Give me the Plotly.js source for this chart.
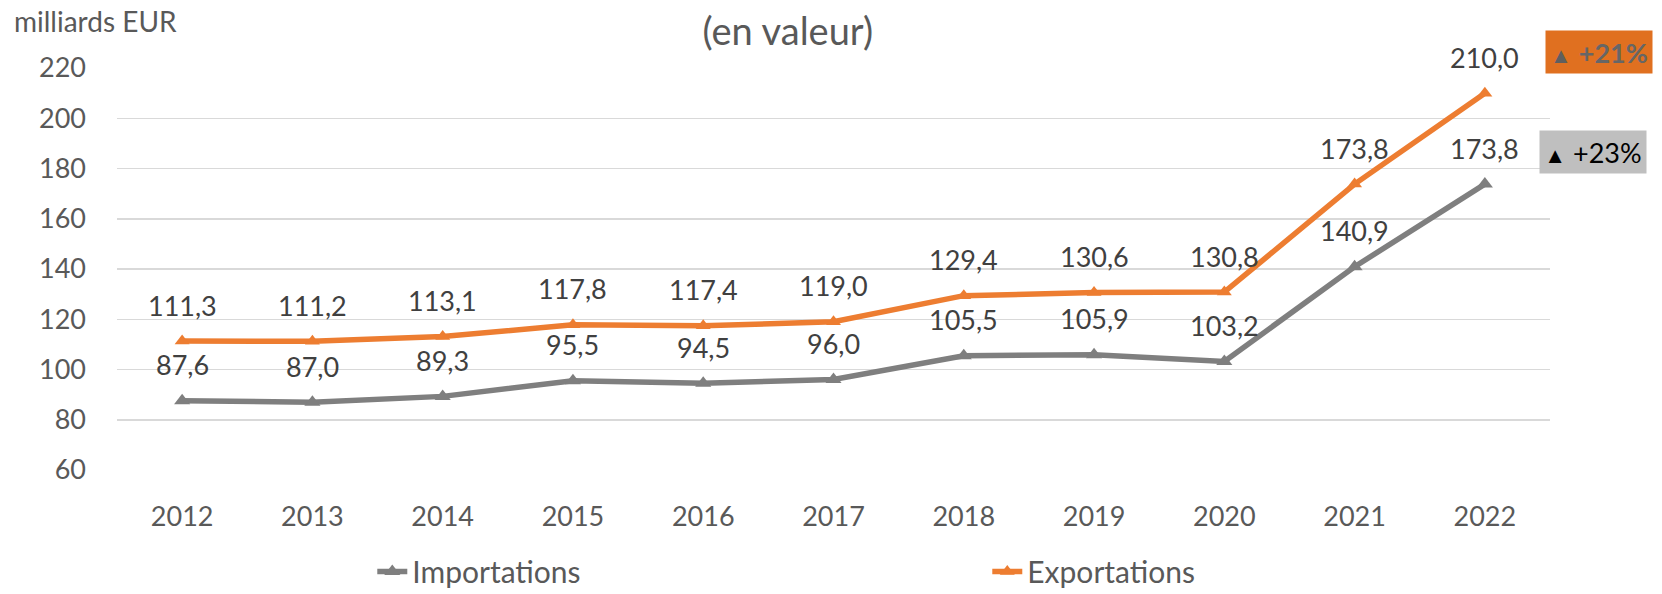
<!DOCTYPE html>
<html>
<head>
<meta charset="utf-8">
<script src="https://cdn.plot.ly/plotly-3.0.1.min.js"></script>
<style>html,body{margin:0;padding:0;background:#fff;}#chart{width:1662px;height:594px;}</style>
</head>
<body>
<div id="chart"></div>
<script>
const years = ['2012','2013','2014','2015','2016','2017','2018','2019','2020','2021','2022'];
const importations = [87.6, 87.0, 89.3, 95.5, 94.5, 96.0, 105.5, 105.9, 103.2, 140.9, 173.8];
const exportations = [111.3, 111.2, 113.1, 117.8, 117.4, 119.0, 129.4, 130.6, 130.8, 173.8, 210.0];
const yTicks = [60, 80, 100, 120, 140, 160, 180, 200, 220];
const badgeExports = '+21%';
const badgeImports = '+23%';

const FONT = 'Lato, "Open Sans", sans-serif';
const fmt = v => v.toFixed(1).replace('.', ',');

const traces = [
  {
    x: years, y: importations, name: 'Importations', type: 'scatter', mode: 'lines+markers',
    line: {color: '#7F7F7F', width: 5.5},
    marker: {symbol: 'triangle-up', size: 14, color: '#7F7F7F'}
  },
  {
    x: years, y: exportations, name: 'Exportations', type: 'scatter', mode: 'lines+markers',
    line: {color: '#ED7D31', width: 5.5},
    marker: {symbol: 'triangle-up', size: 13, color: '#ED7D31'}
  }
];

const annotations = [];
[importations, exportations].forEach(series => {
  series.forEach((v, i) => {
    annotations.push({
      x: i, y: v, xref: 'x', yref: 'y', text: fmt(v), showarrow: false,
      yshift: 36, font: {family: FONT, size: 27, color: '#404040'}
    });
  });
});

annotations.push({
  xref: 'paper', yref: 'paper', x: -0.0733, y: 1.1157, xanchor: 'left', yanchor: 'middle',
  text: 'milliards EUR', showarrow: false, font: {family: FONT, size: 28, color: '#595959'}
});
annotations.push({
  xref: 'paper', yref: 'paper', x: 1.034, y: 1.041, xanchor: 'center', yanchor: 'middle',
  text: '<span style="font-size:22px;color:#5f5f5f">▲</span> <b>' + badgeExports + '</b>',
  showarrow: false, bgcolor: '#E07020', width: 104, height: 40,
  font: {family: FONT, size: 27, color: '#666666'}
});
annotations.push({
  xref: 'paper', yref: 'paper', x: 1.030, y: 0.792, xanchor: 'center', yanchor: 'middle',
  text: '<span style="font-size:22px;color:#000">▲</span> ' + badgeImports,
  showarrow: false, bgcolor: '#BFBFBF', width: 104, height: 40,
  font: {family: FONT, size: 27, color: '#000000'}
});

const layout = {
  width: 1662, height: 594,
  margin: {l: 117, r: 112, t: 68, b: 124, autoexpand: false},
  paper_bgcolor: '#ffffff', plot_bgcolor: '#ffffff',
  font: {family: FONT, color: '#595959'},
  title: {
    text: '(en valeur)', x: 0.474, xref: 'container', xanchor: 'center',
    y: 0.946, yref: 'container', yanchor: 'middle',
    font: {family: FONT, size: 38, color: '#595959'}
  },
  xaxis: {
    type: 'category', range: [-0.5, 10.5], showgrid: false, zeroline: false, showline: false,
    ticks: '', ticklabelstandoff: 28, tickfont: {family: FONT, size: 27, color: '#595959'},
    fixedrange: true, automargin: false
  },
  yaxis: {
    range: [60, 220], tickvals: yTicks, showgrid: true, gridcolor: '#D9D9D9', gridwidth: 1.5,
    zeroline: false, showline: false, ticks: '', ticklabelstandoff: 30,
    tickfont: {family: FONT, size: 27, color: '#595959'}, fixedrange: true, automargin: false
  },
  showlegend: true,
  legend: {
    orientation: 'h', xref: 'container', x: 0.224, xanchor: 'left',
    yref: 'container', y: 0.038, yanchor: 'middle',
    entrywidth: 570, entrywidthmode: 'pixels',
    font: {family: FONT, size: 30, color: '#595959'}, bgcolor: 'rgba(0,0,0,0)'
  },
  annotations: annotations
};

Plotly.newPlot('chart', traces, layout, {displayModeBar: false, staticPlot: true});
</script>
</body>
</html>
